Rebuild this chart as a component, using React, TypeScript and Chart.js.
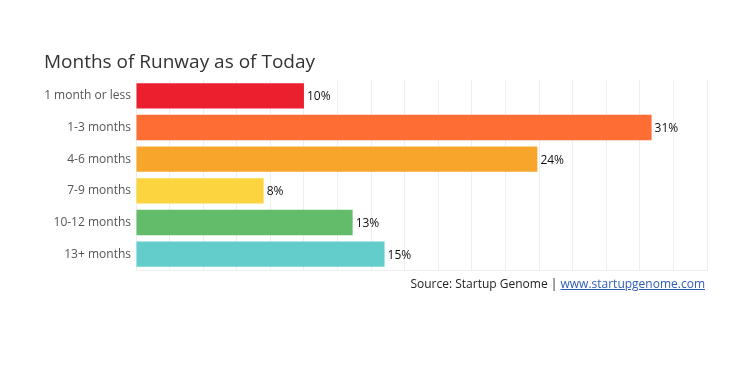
import React, { useEffect, useRef } from "react";
import { Chart, registerables } from "chart.js";

Chart.register(...registerables);

const categories = ["1 month or less", "1-3 months", "4-6 months", "7-9 months", "10-12 months", "13+ months"];
const values = [10.0, 30.7, 23.9, 7.6, 12.9, 14.8];
const valueLabels = ["10%", "31%", "24%", "8%", "13%", "15%"];
const barColors = ["#EC1F2F", "#FE6D33", "#F7A52B", "#FCD43F", "#63BC6A", "#63CDCB"];
const xTickStep = 2;
const xMax = 34;

const FONT = "'Open Sans', 'Noto Sans', sans-serif";

const valueLabelPlugin = {
  id: "valueLabels",
  afterDatasetsDraw(chart: any) {
    const ctx = chart.ctx;
    const meta = chart.getDatasetMeta(0);
    ctx.save();
    ctx.font = `12px ${FONT}`;
    ctx.fillStyle = "#111";
    ctx.textAlign = "left";
    ctx.textBaseline = "middle";
    meta.data.forEach((bar: any, i: number) => {
      ctx.fillText(valueLabels[i], bar.x + 3, bar.y + 1);
    });
    ctx.restore();
  },
};

export default function App() {
  const canvasRef = useRef<HTMLCanvasElement | null>(null);

  useEffect(() => {
    document.body.style.margin = "0";
    const chart = new Chart(canvasRef.current as HTMLCanvasElement, {
      type: "bar",
      data: {
        labels: categories,
        datasets: [
          {
            data: values,
            backgroundColor: barColors,
            borderWidth: 0,
            categoryPercentage: 0.8,
            barPercentage: 1,
          },
        ],
      },
      options: {
        indexAxis: "y",
        animation: false,
        responsive: false,
        maintainAspectRatio: false,
        layout: { padding: { left: 44, right: 43, top: 0, bottom: 100 } },
        plugins: {
          legend: { display: false },
          tooltip: { enabled: false },
          title: {
            display: true,
            text: "Months of Runway as of Today",
            align: "start",
            color: "#333",
            font: { family: FONT, size: 19, weight: "normal" as any, lineHeight: 1.2 },
            padding: { top: 51, bottom: 6.2 },
          },
        },
        scales: {
          x: {
            min: 0,
            max: xMax,
            ticks: { display: false, stepSize: xTickStep },
            grid: { color: "#EEEEEE", drawTicks: false, lineWidth: 1 },
            border: { display: true, color: "#EEEEEE" },
          },
          y: {
            afterFit(scale: any) {
              scale.width = 92;
            },
            ticks: {
              color: "#555",
              font: { family: FONT, size: 12 },
              padding: 5,
            },
            grid: { display: false, drawTicks: false },
            border: { display: false },
          },
        },
      },
      plugins: [valueLabelPlugin],
    });
    return () => chart.destroy();
  }, []);

  return (
    <div style={{ position: "relative", width: 750, height: 370, background: "#fff" }}>
      <canvas ref={canvasRef} width={750} height={370} style={{ display: "block" }} />
      <div
        style={{
          position: "absolute",
          right: 45,
          top: 275,
          fontFamily: FONT,
          fontSize: 12,
          color: "#222",
          whiteSpace: "nowrap",
        }}
      >
        Source: Startup Genome |{" "}
        <a href="#" style={{ color: "#2F5DB5", textDecoration: "underline" }}>
          www.startupgenome.com
        </a>
      </div>
    </div>
  );
}
